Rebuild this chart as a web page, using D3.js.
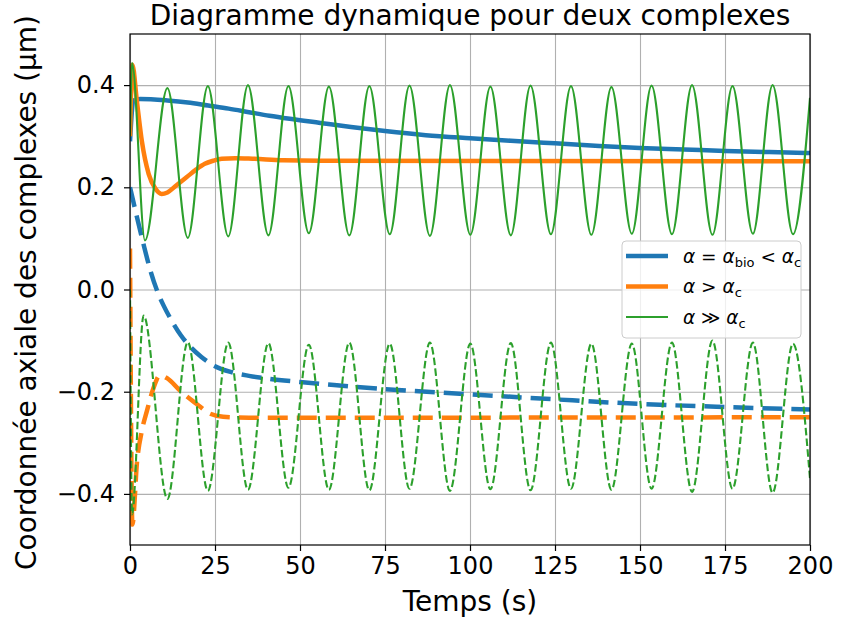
<!DOCTYPE html>
<html><head><meta charset="utf-8">
<script src="https://cdn.jsdelivr.net/npm/d3@7"></script>
<style>
body{margin:0;background:#fff;}
text{font-family:"DejaVu Sans",sans-serif;}
</style></head>
<body><svg id="chart" width="841" height="626"></svg>
<script>
// ---- data ----
const xTicks = [0, 25, 50, 75, 100, 125, 150, 175, 200];
const yTicks = [-0.4, -0.2, 0.0, 0.2, 0.4];

const tBlue = [0, 1, 3, 11, 17, 23, 29, 35, 41, 47, 56, 65, 75, 87, 100, 112, 125, 138, 150, 163, 175, 188, 200];
const blueSolid = [0.29, 0.37, 0.373, 0.370, 0.366, 0.360, 0.354, 0.347, 0.340, 0.334, 0.326, 0.318, 0.310, 0.302, 0.296, 0.291, 0.286, 0.281, 0.277, 0.274, 0.271, 0.269, 0.267];

const tBlueDash = [0, 2, 4, 6, 8, 10, 12, 15, 18, 21, 25, 30, 35, 41, 50, 60, 75, 100, 125, 150, 175, 200];
const blueDash = [0.20, 0.143, 0.088, 0.037, -0.003, -0.033, -0.058, -0.090, -0.114, -0.132, -0.150, -0.162, -0.169, -0.175, -0.181, -0.187, -0.195, -0.205, -0.215, -0.224, -0.230, -0.235];

const tOrange = [0, 0.7, 2, 3.5, 5.5, 7.5, 9.3, 11, 13.5, 16.7, 19.5, 22, 24.5, 27, 31, 36, 45, 56, 200];
const orangeSolid = [0.30, 0.44, 0.37, 0.29, 0.226, 0.197, 0.187, 0.190, 0.203, 0.220, 0.235, 0.246, 0.252, 0.256, 0.257, 0.256, 0.253, 0.252, 0.251];

const tOrangeDash = [0, 0.7, 2.1, 3.5, 5, 7, 8.8, 11, 14.7, 19.6, 23.5, 27.4, 35, 200];
const orangeDash = [0.08, -0.46, -0.335, -0.276, -0.237, -0.191, -0.168, -0.174, -0.198, -0.224, -0.243, -0.249, -0.251, -0.250];

const tGreen = [0, 0.6, 4.4, 11.0, 17.0, 22.9, 28.9, 34.7, 40.7, 46.6, 52.6, 58.5, 64.5, 70.4, 76.4, 82.2, 88.2, 94.1, 100.1, 106.0, 112.0, 117.8, 123.8, 129.7, 135.7, 141.6, 147.6, 153.4, 159.4, 165.3, 171.3, 177.2, 183.2, 189.0, 195.0, 200];
const greenSolid = [0.30, 0.443, 0.096, 0.394, 0.101, 0.398, 0.104, 0.400, 0.106, 0.398, 0.110, 0.397, 0.106, 0.398, 0.108, 0.399, 0.105, 0.400, 0.107, 0.397, 0.106, 0.399, 0.108, 0.398, 0.107, 0.396, 0.109, 0.399, 0.108, 0.400, 0.107, 0.398, 0.109, 0.400, 0.108, 0.375];

const tGreenDash = [0, 0.6, 4.0, 11.0, 17.0, 22.9, 28.9, 34.7, 40.7, 46.6, 52.6, 58.5, 64.5, 70.4, 76.4, 82.2, 88.2, 94.1, 100.1, 106.0, 112.0, 117.8, 123.8, 129.7, 135.7, 141.6, 147.6, 153.4, 159.4, 165.3, 171.3, 177.2, 183.2, 189.0, 195.0, 200];
const greenDash = [0.0, -0.44, -0.051, -0.410, -0.103, -0.394, -0.104, -0.392, -0.105, -0.388, -0.108, -0.392, -0.104, -0.393, -0.106, -0.390, -0.104, -0.394, -0.106, -0.391, -0.105, -0.393, -0.104, -0.390, -0.106, -0.392, -0.106, -0.390, -0.104, -0.396, -0.100, -0.390, -0.104, -0.398, -0.106, -0.37];

const title = "Diagramme dynamique pour deux complexes";
const xLabel = "Temps (s)";
const yLabel = "Coordonnée axiale des complexes (µm)";

// ---- layout ----
const L = 130, R = 810, T = 34, B = 545;
const svg = d3.select("#chart");
const x = d3.scaleLinear().domain([0, 200]).range([L, R]);
const y = d3.scaleLinear().domain([-0.5, 0.5]).range([B, T]);

svg.append("rect").attr("width", 841).attr("height", 626).attr("fill", "#fff");

// grid
svg.append("g").attr("transform", `translate(0,${B})`)
  .call(d3.axisBottom(x).tickValues(xTicks).tickSize(-(B - T)).tickFormat(""))
  .call(g => g.select(".domain").remove())
  .call(g => g.selectAll("line").attr("stroke", "#b0b0b0").attr("stroke-width", 1.1));
svg.append("g").attr("transform", `translate(${L},0)`)
  .call(d3.axisLeft(y).tickValues(yTicks).tickSize(-(R - L)).tickFormat(""))
  .call(g => g.select(".domain").remove())
  .call(g => g.selectAll("line").attr("stroke", "#b0b0b0").attr("stroke-width", 1.1));

svg.append("clipPath").attr("id", "clip").append("rect")
  .attr("x", L).attr("y", T).attr("width", R - L).attr("height", B - T);

const plot = svg.append("g").attr("clip-path", "url(#clip)");
function series(ts, vs, color, width, dash) {
  const pts = ts.map((t, i) => [t, vs[i]]);
  const line = d3.line().x(d => x(d[0])).y(d => y(d[1])).curve(d3.curveMonotoneX);
  plot.append("path").datum(pts).attr("d", line)
    .attr("fill", "none").attr("stroke", color).attr("stroke-width", width)
    .attr("stroke-dasharray", dash || null).attr("stroke-linejoin", "round");
}
const C_BLUE = "#1f77b4", C_ORANGE = "#ff7f0e", C_GREEN = "#2ca02c";
series(tBlue, blueSolid, C_BLUE, 4.5);
series(tBlueDash, blueDash, C_BLUE, 4.5, "20,9");
series(tOrange, orangeSolid, C_ORANGE, 4.5);
series(tOrangeDash, orangeDash, C_ORANGE, 4.5, "20,9");
series(tGreen, greenSolid, C_GREEN, 2.1);
series(tGreenDash, greenDash, C_GREEN, 2.1, "7.5,3.2");

// frame
svg.append("rect").attr("x", L).attr("y", T).attr("width", R - L).attr("height", B - T)
  .attr("fill", "none").attr("stroke", "#000").attr("stroke-width", 1.2);

// axes
const xa = svg.append("g").attr("transform", `translate(0,${B})`)
  .call(d3.axisBottom(x).tickValues(xTicks).tickSize(6).tickSizeOuter(0).tickPadding(6).tickFormat(d3.format("d")));
const ya = svg.append("g").attr("transform", `translate(${L},0)`)
  .call(d3.axisLeft(y).tickValues(yTicks).tickSize(6).tickSizeOuter(0).tickPadding(9).tickFormat(d3.format(".1f")));
[xa, ya].forEach(a => {
  a.select(".domain").remove();
  a.selectAll("line").attr("stroke", "#000").attr("stroke-width", 1.2);
  a.selectAll("text").attr("font-family", "DejaVu Sans").attr("font-size", 24).attr("fill", "#000");
});

// labels
svg.append("text").attr("x", (L + R) / 2).attr("y", 25).attr("text-anchor", "middle")
  .attr("font-size", 28).text(title);
svg.append("text").attr("x", (L + R) / 2).attr("y", 611).attr("text-anchor", "middle")
  .attr("font-size", 28).text(xLabel);
svg.append("text").attr("transform", `translate(36,${(T + B) / 2 + 3}) rotate(-90)`).attr("text-anchor", "middle")
  .attr("font-size", 28).text(yLabel);

// legend
const lg = svg.append("g");
lg.append("rect").attr("x", 622).attr("y", 241).attr("width", 179).attr("height", 97).attr("rx", 4)
  .attr("fill", "#fff").attr("fill-opacity", 0.8).attr("stroke", "#cccccc").attr("stroke-width", 1);
const legendItems = [
  {color: C_BLUE, w: 4.5, parts: [["α", "i"], [" = ", "n"], ["α", "i"], ["bio", "s"], [" < ", "n"], ["α", "i"], ["c", "s"]]},
  {color: C_ORANGE, w: 4.5, parts: [["α", "i"], [" > ", "n"], ["α", "i"], ["c", "s"]]},
  {color: C_GREEN, w: 2.1, parts: [["α", "i"], [" ≫ ", "n"], ["α", "i"], ["c", "s"]]}
];
legendItems.forEach((it, i) => {
  const yy = 256 + i * 30.5;
  lg.append("line").attr("x1", 626).attr("x2", 668).attr("y1", yy).attr("y2", yy)
    .attr("stroke", it.color).attr("stroke-width", it.w);
  const t = lg.append("text").attr("x", 683).attr("y", yy + 6.5).attr("font-size", 18.5)
    .attr("fill", "#000").style("white-space", "pre");
  let sub = false;
  it.parts.forEach(([s, k]) => {
    const ts = t.append("tspan").text(s);
    if (k === "i") ts.attr("font-style", "italic");
    if (k === "s" && !sub) { ts.attr("dy", 4).attr("font-size", 13); sub = true; }
    else if (k === "s") { ts.attr("font-size", 13); }
    else if (sub) { ts.attr("dy", -4); sub = false; }
  });
});
</script></body></html>
